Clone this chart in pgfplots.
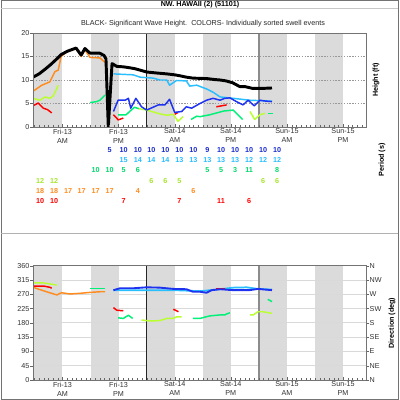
\documentclass[border=0pt]{standalone}
\usepackage{pgfplots}
\pgfplotsset{compat=1.18}
\usepackage{pgfplotstable}
\usepackage{fontspec}
\setmainfont{Liberation Sans}
\newcommand\tf{\fontsize{5.4}{6.7}\selectfont}
\definecolor{cBlue}{RGB}{30,50,240}
\definecolor{cCyan}{RGB}{40,190,255}
\definecolor{cGreen}{RGB}{0,240,120}
\definecolor{cYel}{RGB}{185,255,50}
\definecolor{cOrange}{RGB}{255,140,30}
\definecolor{cRed}{RGB}{255,0,0}
\definecolor{band}{RGB}{219,219,219}

\pgfplotstableread{
x y p
16.1 6 5
19.1 6 10
22.1 6 10
25.0 6 10
28.0 6 10
31.0 6 10
34.0 6 10
37.0 6 9
39.9 6 10
42.9 6 10
45.9 6 10
48.9 6 10
51.9 6 10
}\rowA
\pgfplotstableread{
x y p
19.1 5 15
22.1 5 14
25.0 5 14
28.0 5 14
31.0 5 13
34.0 5 13
37.0 5 13
39.9 5 13
42.9 5 13
45.9 5 12
48.9 5 12
51.9 5 12
}\rowB
\pgfplotstableread{
x y p
13.1 4 10
16.1 4 10
19.1 4 5
22.1 4 6
37.0 4 5
39.9 4 5
42.9 4 3
45.9 4 11
51.9 4 8
}\rowC
\pgfplotstableread{
x y p
1.2 3 12
4.2 3 12
25.0 3 6
28.0 3 6
31.0 3 5
48.9 3 6
51.9 3 6
}\rowD
\pgfplotstableread{
x y p
1.2 2 18
4.2 2 18
7.2 2 17
10.1 2 17
13.1 2 17
16.1 2 17
22.1 2 4
34.0 2 6
}\rowE
\pgfplotstableread{
x y p
1.2 1 10
4.2 1 10
19.1 1 7
31.0 1 7
39.9 1 11
45.9 1 6
}\rowF

\pgfplotsset{
  common/.style={
    anchor=south west, scale only axis, width=249.75pt,
    xmin=-0.3, xmax=70.9, axis on top,
    xtick={6,18,30,42,54,66},
    xticklabels={{Fri-13\\AM},{Fri-13\\PM},{Sat-14\\AM},{Sat-14\\PM},{Sun-15\\AM},{Sun-15\\PM}},
    minor xtick={0,1,...,70},
    tick align=inside, tick pos=left,
    major tick length=2.25pt, minor tick length=1.5pt,
    every tick/.append style={black!60},
    every minor tick/.append style={black!60},
    ytick style={xshift=-2.25pt},
    axis line style={black!55},
    tick label style={font=\tf, text=black!80},
    xticklabel style={align=center, inner sep=1.2pt},
    yticklabel style={inner sep=2.6pt},
    /pgf/number format/assume math mode=true,
    every axis plot/.append style={line width=1.1pt, line join=round, mark=none},
  },
  bandplot/.style={fill=band, draw=none, line width=0pt},
}

\begin{document}
\begin{tikzpicture}
\fill[white] (0,0) rectangle (300pt,300pt);

% ---------------- top: heights ----------------
\begin{axis}[common, at={(24.75pt,204.75pt)}, height=70.5pt,
  ymin=0, ymax=20, ytick={0,5,10,15,20}]
\addplot[bandplot] coordinates {(0,0) (6,0) (6,20) (0,20)};
\addplot[bandplot] coordinates {(12,0) (18,0) (18,20) (12,20)};
\addplot[bandplot] coordinates {(24,0) (30,0) (30,20) (24,20)};
\addplot[bandplot] coordinates {(36,0) (42,0) (42,20) (36,20)};
\addplot[bandplot] coordinates {(48,0) (54,0) (54,20) (48,20)};
\addplot[bandplot] coordinates {(60,0) (66,0) (66,20) (60,20)};
\addplot[densely dotted, black!40, line width=0.45pt] coordinates {(-0.3,5) (70.9,5)};
\addplot[densely dotted, black!40, line width=0.45pt] coordinates {(-0.3,10) (70.9,10)};
\addplot[densely dotted, black!40, line width=0.45pt] coordinates {(-0.3,15) (70.9,15)};
\addplot[black!85, line width=0.6pt] coordinates {(24,0) (24,20)};
\addplot[black!45, line width=1.2pt] coordinates {(48,0) (48,20)};
% red
\addplot[cRed] coordinates {(-0.3,4.5) (0.8,5.1) (1.9,4.0) (2.8,3.7) (3.7,3.0)};
\addplot[cRed] coordinates {(16.9,2.6) (17.6,1.9) (17.9,1.5) (19.0,1.9)};
\addplot[cRed] coordinates {(30.0,2.7) (30.7,3.1)};
\addplot[cRed] coordinates {(38.9,4.3) (41.1,4.7)};
% yellow-green
\addplot[cYel] coordinates {(-0.3,6.1) (1.2,5.7) (2.3,6.4) (3.3,6.1) (4.0,6.6) (4.8,8.2) (5.1,8.9)};
\addplot[cYel] coordinates {(22.3,3.9) (24.0,3.6) (26.8,2.8) (28.3,2.5) (29.7,2.7) (30.7,1.2) (31.8,2.2)};
\addplot[cYel] coordinates {(46.1,3.3) (47.1,1.6) (48.2,2.6) (49.3,2.9)};
% green
\addplot[cGreen] coordinates {(11.9,5.2) (13.3,5.4) (14.0,5.7) (15.1,6.8)};
\addplot[cGreen] coordinates {(17.9,2.6) (19.6,2.6) (20.7,3.6) (21.4,4.2) (22.3,3.9)};
\addplot[cGreen] coordinates {(33.5,1.6) (34.7,2.3) (35.4,2.2) (37.5,2.6) (39.0,3.0) (40.5,3.4) (42.5,3.6) (43.5,2.6) (44.5,1.6)};
\addplot[cGreen] coordinates {(49.9,2.9) (51.0,2.9)};
% cyan
\addplot[cCyan] coordinates {(16.9,11.3) (21.1,11.1) (22.6,10.6) (25.4,10.4) (26.8,10.0) (28.3,10.0) (28.9,8.9) (30.4,9.9) (32.5,9.8) (33.2,8.7) (34.7,8.9) (36.8,8.1) (38.2,7.4) (39.7,6.4) (42.5,6.1) (46.0,5.7) (50.8,5.5)};
% blue
\addplot[cBlue] coordinates {(16.9,3.3) (17.9,5.7) (19.4,5.7) (20.1,6.1) (20.6,4.0) (21.7,6.1) (22.9,4.3) (24.0,3.6) (26.5,4.7) (27.9,4.7) (28.9,5.9) (30.0,3.1) (31.5,3.3) (32.5,4.3) (33.6,4.0) (35.4,5.0) (36.8,5.7) (38.2,6.1) (39.7,5.7) (40.7,6.1) (41.8,6.2) (43.2,5.4) (44.6,4.7) (45.7,5.7) (47.0,4.5) (48.2,5.7) (49.5,5.5) (50.8,5.4)};
% orange
\addplot[cOrange] coordinates {(-0.3,7.6) (1.6,8.9) (3.3,9.6) (4.4,11.8) (5.1,12.1) (5.7,15.0) (7.0,16.0) (8.9,16.7) (10.0,15.0) (10.8,16.4) (11.9,14.8) (14.0,14.7) (15.4,13.5)};
% black: significant wave height
\addplot[black, line width=2.2pt] coordinates {(-0.3,10.6) (1.0,11.3) (2.3,12.3) (3.5,13.3) (4.8,14.5) (5.7,15.4) (7.0,16.1) (8.9,16.8) (10.0,15.3) (10.8,16.7) (11.9,15.7) (14.0,15.7) (14.9,15.2) (15.3,14.5) (15.8,0) (16.6,13.5) (17.6,12.9) (19.0,12.8) (20.4,12.6) (21.5,12.4) (22.6,12.1) (24.0,11.7) (26.0,11.5) (28.3,11.3) (30.0,11.1) (31.1,10.9) (32.5,10.6) (33.9,10.4) (36.9,10.3) (38.5,10.1) (39.7,10.0) (41.0,9.8) (42.4,9.4) (43.9,8.6) (45.0,8.6) (46.7,8.2) (48.5,8.2) (50.8,8.3)};
\end{axis}

% ---------------- middle: periods ----------------
\begin{axis}[at={(24.75pt,141.6pt)}, anchor=south west, scale only axis,
  width=249.75pt, height=53.55pt, xmin=-0.3, xmax=70.9, ymin=0, ymax=7,
  hide axis, clip=false,
  every axis plot/.append style={draw=none, mark=none, nodes near coords,
     point meta=explicit symbolic},
  ]
\addplot[nodes near coords style={anchor=center, font=\bfseries\tf, text=cBlue!85!black}] table[x=x,y=y,meta=p] {\rowA};
\addplot[nodes near coords style={anchor=center, font=\bfseries\tf, text=cCyan}] table[x=x,y=y,meta=p] {\rowB};
\addplot[nodes near coords style={anchor=center, font=\bfseries\tf, text=cGreen!90!black}] table[x=x,y=y,meta=p] {\rowC};
\addplot[nodes near coords style={anchor=center, font=\bfseries\tf, text=cYel!90!black}] table[x=x,y=y,meta=p] {\rowD};
\addplot[nodes near coords style={anchor=center, font=\bfseries\tf, text=cOrange}] table[x=x,y=y,meta=p] {\rowE};
\addplot[nodes near coords style={anchor=center, font=\bfseries\tf, text=cRed}] table[x=x,y=y,meta=p] {\rowF};
\end{axis}

% ---------------- bottom: directions ----------------
\begin{axis}[common, at={(24.75pt,15pt)}, height=85.7pt,
  ymin=0, ymax=360, ytick={0,45,...,360}]
\addplot[bandplot] coordinates {(0,0) (6,0) (6,360) (0,360)};
\addplot[bandplot] coordinates {(12,0) (18,0) (18,360) (12,360)};
\addplot[bandplot] coordinates {(24,0) (30,0) (30,360) (24,360)};
\addplot[bandplot] coordinates {(36,0) (42,0) (42,360) (36,360)};
\addplot[bandplot] coordinates {(48,0) (54,0) (54,360) (48,360)};
\addplot[bandplot] coordinates {(60,0) (66,0) (66,360) (60,360)};
\addplot[black!15, line width=0.6pt] coordinates {(-0.3,45) (70.9,45)};
\addplot[black!15, line width=0.6pt] coordinates {(-0.3,90) (70.9,90)};
\addplot[black!15, line width=0.6pt] coordinates {(-0.3,135) (70.9,135)};
\addplot[black!15, line width=0.6pt] coordinates {(-0.3,180) (70.9,180)};
\addplot[black!15, line width=0.6pt] coordinates {(-0.3,225) (70.9,225)};
\addplot[black!15, line width=0.6pt] coordinates {(-0.3,270) (70.9,270)};
\addplot[black!15, line width=0.6pt] coordinates {(-0.3,315) (70.9,315)};
\addplot[black!85, line width=0.6pt] coordinates {(24,0) (24,360)};
\addplot[black!45, line width=1.2pt] coordinates {(48,0) (48,360)};
\addplot[cYel] coordinates {(-0.3,306) (1.9,306) (4.8,299)};
\addplot[cRed] coordinates {(-0.3,296) (2.0,296) (3.3,292) (3.7,289)};
\addplot[cOrange] coordinates {(-0.3,292) (2.6,278) (4.8,268) (5.8,275) (7.6,271) (9.7,273) (11.9,276) (14.0,278) (15.1,278)};
\addplot[cGreen] coordinates {(11.9,289) (15.1,289)};
\addplot[cRed] coordinates {(16.9,228) (17.6,220) (19.0,218)};
\addplot[cGreen] coordinates {(17.9,196) (19.0,194) (20.1,204) (21.0,194)};
\addplot[cYel] coordinates {(22.9,189) (24.7,186) (26.8,187) (28.3,194) (29.7,194) (30.4,199) (31.5,199)};
\addplot[cRed] coordinates {(29.7,223) (30.8,215)};
\addplot[cGreen] coordinates {(33.9,194) (35.4,194) (37.5,202) (39.7,205) (40.7,205) (41.1,208) (41.8,212)};
\addplot[cYel] coordinates {(46.1,205) (46.8,205) (47.8,215) (48.9,215) (50.8,210)};
\addplot[cGreen] coordinates {(49.9,254) (50.8,247)};
\addplot[cCyan, line width=1.3pt] coordinates {(16.9,283) (26.1,283) (29.7,283) (35.4,280) (39.7,286) (42.5,291) (45.4,292) (47.8,287) (50.8,285)};
\addplot[cRed] coordinates {(38.9,289) (40.7,289)};
\addplot[cBlue, line width=1.4pt] coordinates {(16.9,283) (18.3,289) (21.1,289) (24.0,292) (26.8,291) (29.7,287) (32.5,286) (33.9,278) (35.4,278) (36.8,275) (37.9,283) (39.7,286) (42.5,283) (46.0,283) (47.8,287) (50.8,283)};
\end{axis}
% right-hand compass labels
\begin{axis}[at={(24.75pt,15pt)}, anchor=south west, scale only axis,
  width=249.75pt, height=85.7pt, xmin=-0.3, xmax=70.9, ymin=0, ymax=360,
  hide x axis, axis y line*=right, ytick={0,45,...,360},
  yticklabels={N,NE,E,SE,S,SW,W,NW,N},
  tick align=inside, major tick length=2.25pt,
  ytick style={xshift=2.25pt, black!60},
  axis line style={black!55},
  yticklabel style={font=\tf, text=black!80, inner sep=2.6pt}]
\addplot[draw=none] coordinates {(0,0) (1,360)};
\end{axis}

% frame and texts
\draw[black!55, line width=0.7pt] (1.1pt,0.4pt) rectangle (298.6pt,299.6pt);
\draw[black!22, line width=0.6pt] (1.1pt,293.8pt) -- (298.6pt,293.8pt);
\draw[black!30, line width=1.2pt] (1.1pt,125pt) -- (298.6pt,125pt);
\node[font=\bfseries\tf, inner sep=0pt] at (150pt,296.6pt) {NW. HAWAII (2) (51101)};
\node[font=\tf, text=black!85, inner sep=0pt] at (152.25pt,282pt) {BLACK- Significant Wave Height.\ \ COLORS- Individually sorted swell events};
\node[font=\bfseries\tf, rotate=90, inner sep=0pt] at (282pt,240pt) {Height (ft)};
\node[font=\bfseries\tf, rotate=90, inner sep=0pt] at (286.5pt,180pt) {Period (s)};
\node[font=\bfseries\tf, rotate=90, inner sep=0pt] at (294pt,57.75pt) {Direction (deg)};
\end{tikzpicture}
\end{document}
